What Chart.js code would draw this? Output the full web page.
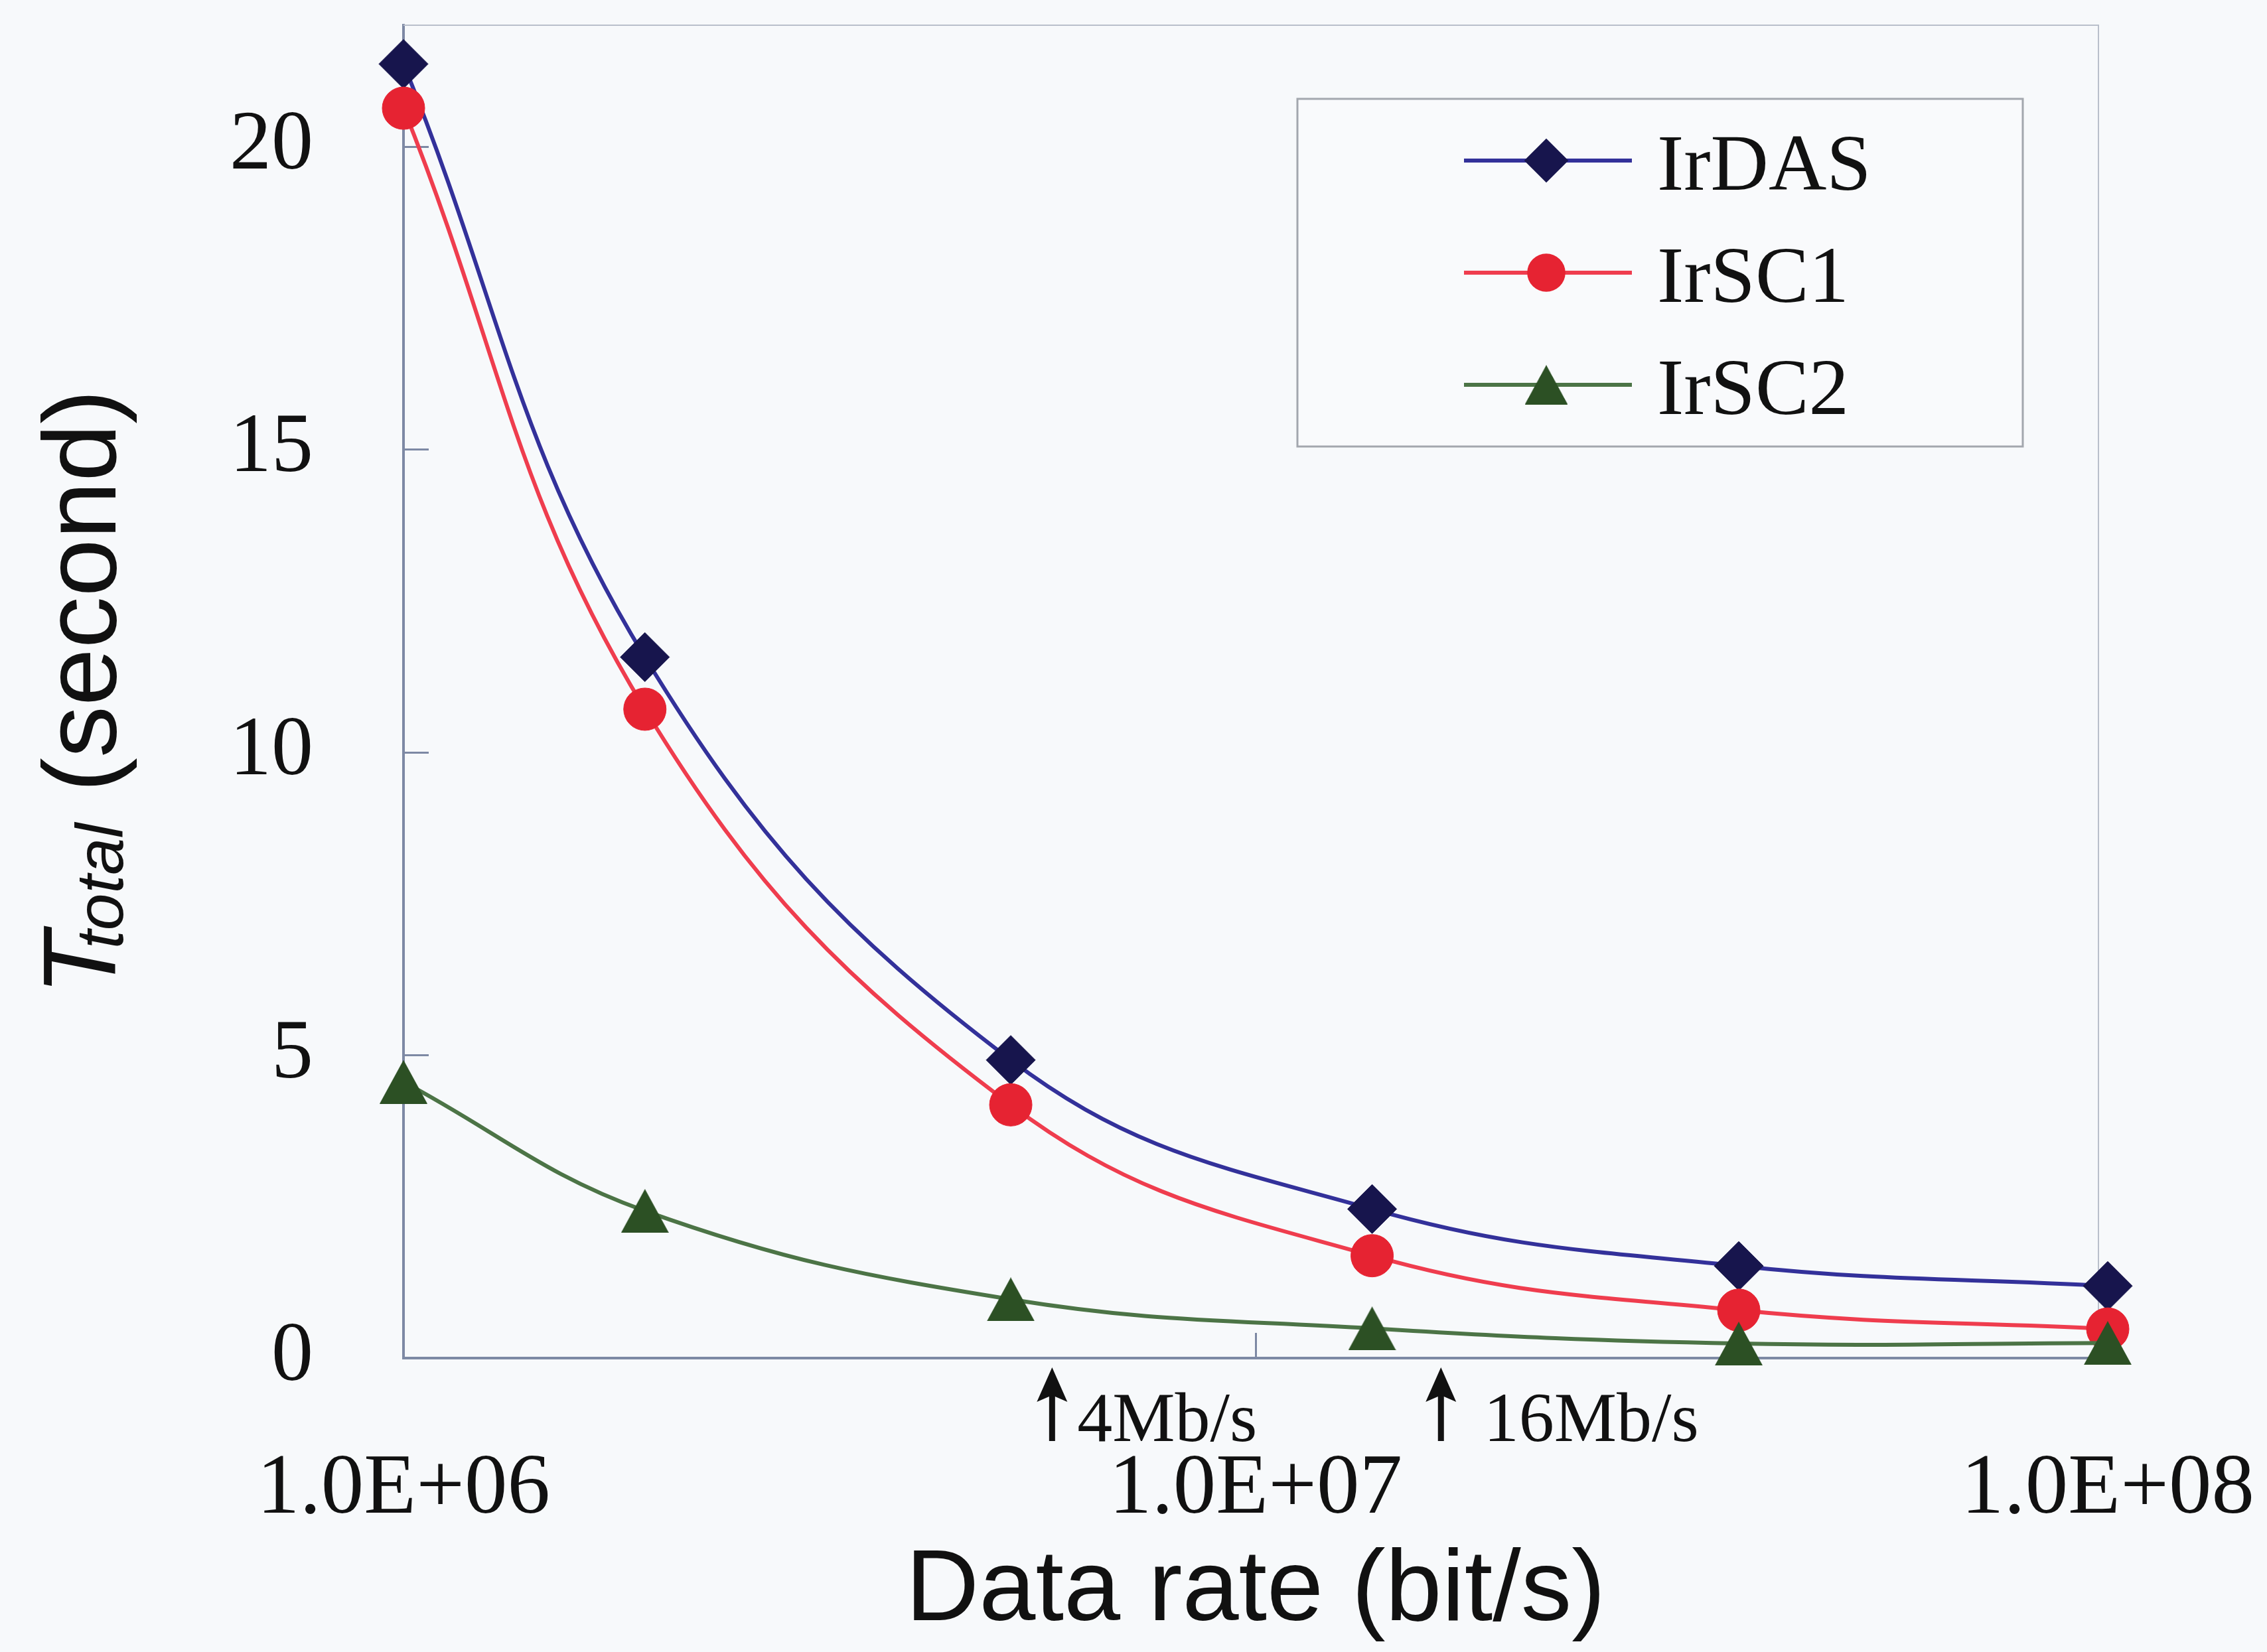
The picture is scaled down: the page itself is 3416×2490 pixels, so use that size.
<!DOCTYPE html>
<html>
<head>
<meta charset="utf-8">
<title>Ttotal vs data rate</title>
<script src="https://cdn.jsdelivr.net/npm/chart.js@4.4.1/dist/chart.umd.min.js"></script>
<style>
  html, body { margin: 0; padding: 0; background: #f7f9fb; }
  canvas { display: block; }
</style>
</head>
<body>
<canvas id="chart" width="3416" height="2490"></canvas>
<script>
// Data rate of each measurement point (bit/s)
const dataRates = [1.0e6, 1.92e6, 5.16e6, 1.37e7, 3.69e7, 1.0e8];
// Total transfer time (second) for each protocol
const irdasTimes = [21.36, 11.57, 4.92, 2.46, 1.52, 1.19];
const irsc1Times = [20.63, 10.71, 4.18, 1.69, 0.79, 0.48];
const irsc2Times = [4.56, 2.43, 0.97, 0.49, 0.24, 0.25];
const seriesNames = ['IrDAS', 'IrSC1', 'IrSC2'];

// Axis ticks
const xTickValues = [1e6, 1e7, 1e8];
const xTickLabels = ['1.0E+06', '1.0E+07', '1.0E+08'];
const yTickValues = [0, 5, 10, 15, 20];

// Arrow notes under the rate axis
const noteRates = [5.77e6, 1.65e7];
const noteTexts = ['4Mb/s', ' 16Mb/s'];

const SERIF = '"Liberation Serif", "Times New Roman", serif';
const SANS = '"Liberation Sans", Arial, sans-serif';
const AXIS_COLOR = '#7d89a4';
const TEXT_COLOR = '#111111';

// Isosceles triangle marker, centred on its bounding box
function makeTriangle(w, h, fill) {
  const c = document.createElement('canvas');
  c.width = w; c.height = h;
  const g = c.getContext('2d');
  g.fillStyle = fill;
  g.beginPath();
  g.moveTo(w / 2, 0);
  g.lineTo(w, h);
  g.lineTo(0, h);
  g.closePath();
  g.fill();
  return c;
}
const triangleMarker = makeTriangle(72, 66, '#2c5024');

const toPoints = ys => ys.map((y, i) => ({ x: dataRates[i], y }));

const datasets = [
  {
    label: seriesNames[0], data: toPoints(irdasTimes),
    borderColor: '#33319a', borderWidth: 6,
    pointStyle: 'rectRot', pointRadius: 37,
    pointBackgroundColor: '#17154d', pointBorderColor: '#17154d', pointBorderWidth: 1,
    order: 2
  },
  {
    label: seriesNames[1], data: toPoints(irsc1Times),
    borderColor: '#ef3d4e', borderWidth: 6,
    pointStyle: 'circle', pointRadius: 32,
    pointBackgroundColor: '#e62332', pointBorderColor: '#e62332', pointBorderWidth: 1,
    order: 1
  },
  {
    label: seriesNames[2], data: toPoints(irsc2Times),
    borderColor: '#4c7446', borderWidth: 6,
    pointStyle: triangleMarker, pointRadius: 34,
    pointBackgroundColor: '#2c5024', pointBorderColor: '#2c5024', pointBorderWidth: 1,
    order: 0
  }
].map(ds => Object.assign(ds, { tension: 0.4, clip: false, fill: false }));

// Short tick marks pointing into the plot, plus the light frame on top/right
const frameAndTicks = {
  id: 'frameAndTicks',
  beforeDatasetsDraw(chart) {
    const { ctx, chartArea: a, scales: { x, y } } = chart;
    ctx.save();
    ctx.strokeStyle = '#b9bfcb';
    ctx.lineWidth = 2;
    ctx.beginPath();
    ctx.moveTo(a.left, a.top);
    ctx.lineTo(a.right - 14, a.top);
    ctx.lineTo(a.right - 14, a.bottom);
    ctx.stroke();

    ctx.strokeStyle = AXIS_COLOR;
    ctx.lineWidth = 3;
    ctx.beginPath();
    yTickValues.forEach(v => {
      if (v === 0) return;
      const py = Math.round(y.getPixelForValue(v)) + 0.5;
      ctx.moveTo(a.left, py);
      ctx.lineTo(a.left + 38, py);
    });
    xTickValues.forEach(v => {
      const px = Math.round(x.getPixelForValue(v)) + 0.5;
      if (px <= a.left + 2 || px >= a.right - 2) return;
      ctx.moveTo(px, a.bottom);
      ctx.lineTo(px, a.bottom - 38);
    });
    ctx.stroke();
    ctx.restore();
  }
};

function drawMarker(ctx, ds, cx, cy, scale) {
  const style = ds.pointStyle;
  ctx.fillStyle = ds.pointBackgroundColor;
  if (style instanceof HTMLCanvasElement) {
    const w = style.width * scale, h = style.height * scale;
    ctx.drawImage(style, cx - w / 2, cy - h / 2, w, h);
    return;
  }
  const r = ds.pointRadius * scale;
  ctx.beginPath();
  if (style === 'rectRot') {
    ctx.moveTo(cx - r, cy);
    ctx.lineTo(cx, cy - r);
    ctx.lineTo(cx + r, cy);
    ctx.lineTo(cx, cy + r);
    ctx.closePath();
  } else {
    ctx.arc(cx, cy, r, 0, Math.PI * 2);
  }
  ctx.fill();
}

// Boxed legend in the upper right of the plot
const boxedLegend = {
  id: 'boxedLegend',
  afterDraw(chart) {
    const { ctx } = chart;
    const box = { left: 1955, top: 149, right: 3048, bottom: 673 };
    ctx.save();
    ctx.fillStyle = '#f9fafc';
    ctx.fillRect(box.left, box.top, box.right - box.left, box.bottom - box.top);
    ctx.strokeStyle = '#a3a7ae';
    ctx.lineWidth = 3;
    ctx.strokeRect(box.left, box.top, box.right - box.left, box.bottom - box.top);

    chart.data.datasets.forEach((ds, i) => {
      const rowY = box.top + 93 + i * 169;
      ctx.strokeStyle = ds.borderColor;
      ctx.lineWidth = ds.borderWidth;
      ctx.beginPath();
      ctx.moveTo(2206, rowY);
      ctx.lineTo(2459, rowY);
      ctx.stroke();
      drawMarker(ctx, ds, 2330, rowY, 0.9);

      ctx.fillStyle = TEXT_COLOR;
      ctx.font = '121px ' + SERIF;
      ctx.textAlign = 'left';
      ctx.textBaseline = 'alphabetic';
      ctx.fillText(ds.label, 2497, rowY + 44);
    });
    ctx.restore();
  }
};

// Vertical axis title: italic T with italic subscript "total"
const yAxisTitle = {
  id: 'yAxisTitle',
  afterDraw(chart) {
    const { ctx } = chart;
    ctx.save();
    ctx.translate(174, 1500);
    ctx.rotate(-Math.PI / 2);
    ctx.fillStyle = TEXT_COLOR;
    ctx.textAlign = 'left';
    ctx.textBaseline = 'alphabetic';
    ctx.font = 'italic 156px ' + SANS;
    ctx.fillText('T', 0, 0);
    ctx.font = 'italic 100px ' + SANS;
    ctx.fillText('total', 70, 11);
    ctx.font = '156px ' + SANS;
    ctx.fillText('(second)', 306, 0);
    ctx.restore();
  }
};

// Upward arrows with rate captions just below the horizontal axis
const rateNotes = {
  id: 'rateNotes',
  afterDraw(chart) {
    const { ctx, chartArea: a, scales: { x } } = chart;
    ctx.save();
    ctx.fillStyle = TEXT_COLOR;
    ctx.strokeStyle = TEXT_COLOR;
    noteRates.forEach((rate, i) => {
      const px = x.getPixelForValue(rate);
      const tip = a.bottom + 14;
      const base = a.bottom + 125;
      ctx.lineWidth = 9;
      ctx.beginPath();
      ctx.moveTo(px, tip + 30);
      ctx.lineTo(px, base);
      ctx.stroke();
      ctx.beginPath();
      ctx.moveTo(px, tip);
      ctx.lineTo(px + 23, tip + 52);
      ctx.lineTo(px, tip + 42);
      ctx.lineTo(px - 23, tip + 52);
      ctx.closePath();
      ctx.fill();

      ctx.font = '106px ' + SERIF;
      ctx.textAlign = 'left';
      ctx.textBaseline = 'alphabetic';
      ctx.fillText(noteTexts[i], px + 38, base);
    });
    ctx.restore();
  }
};

function dropAxisPadding(scale) {
  scale.paddingLeft = 0;
  scale.paddingRight = 0;
  scale.paddingTop = 0;
  scale.paddingBottom = 0;
}

new Chart(document.getElementById('chart'), {
  type: 'line',
  data: { datasets },
  options: {
    responsive: false,
    devicePixelRatio: 1,
    animation: false,
    events: [],
    layout: { padding: { left: 0, right: 240, top: 35, bottom: 0 } },
    plugins: {
      legend: { display: false },
      tooltip: { enabled: false },
      title: { display: false }
    },
    scales: {
      x: {
        type: 'logarithmic',
        min: xTickValues[0],
        max: xTickValues[xTickValues.length - 1],
        afterBuildTicks(scale) {
          scale.ticks = xTickValues.map(v => ({ value: v }));
        },
        afterFit(scale) {
          scale.height = 443;
          dropAxisPadding(scale);
        },
        grid: { display: false, drawTicks: false },
        border: { display: true, color: AXIS_COLOR, width: 4 },
        ticks: {
          autoSkip: false,
          maxRotation: 0,
          padding: 135,
          color: TEXT_COLOR,
          font: { family: SERIF, size: 129, lineHeight: 1 },
          callback(value) {
            const k = xTickValues.indexOf(value);
            return k >= 0 ? xTickLabels[k] : '';
          }
        },
        title: {
          display: true,
          text: 'Data rate (bit/s)',
          color: TEXT_COLOR,
          font: { family: SANS, size: 153, lineHeight: 1 },
          padding: { top: 0, bottom: 14 }
        }
      },
      y: {
        type: 'linear',
        min: 0,
        max: 22,
        afterBuildTicks(scale) {
          scale.ticks = yTickValues.map(v => ({ value: v }));
        },
        afterFit(scale) {
          scale.width = 608;
          dropAxisPadding(scale);
        },
        grid: { display: false, drawTicks: false },
        border: { display: true, color: AXIS_COLOR, width: 4 },
        ticks: {
          padding: 136,
          color: TEXT_COLOR,
          font: { family: SERIF, size: 126, lineHeight: 1 }
        }
      }
    }
  },
  plugins: [frameAndTicks, boxedLegend, yAxisTitle, rateNotes]
});
</script>
</body>
</html>
